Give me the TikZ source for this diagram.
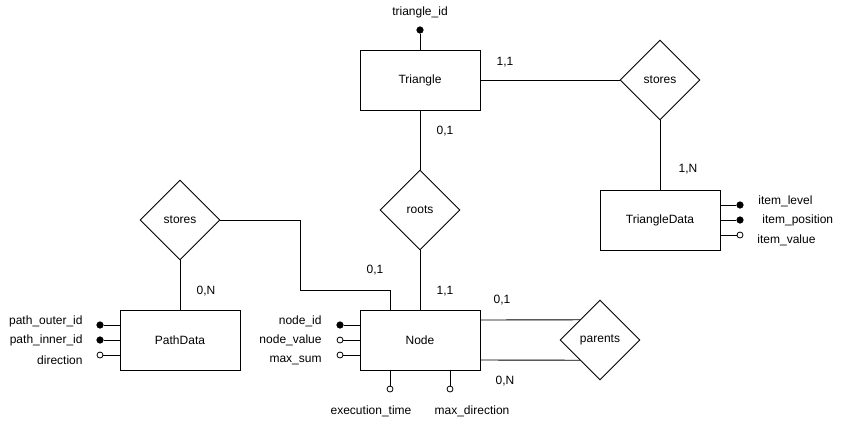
\documentclass[tikz,border=0pt]{standalone}
\usepackage{fontspec}
\setmainfont{Liberation Sans}
\usetikzlibrary{shapes.geometric,calc}
\begin{document}
\begin{tikzpicture}[x=1pt,y=-1pt,line width=0.9pt,
  every node/.style={font=\fontsize{12}{14}\selectfont},
  entity/.style={draw,rectangle,minimum width=120pt,minimum height=60pt,inner sep=0pt},
  rel/.style={draw,diamond,shape aspect=1,minimum width=80pt,minimum height=80pt,inner sep=0pt},
  fdot/.style={circle,fill=black,draw=black,line width=0.6pt,minimum size=6.5pt,inner sep=0pt},
  odot/.style={circle,fill=white,draw=black,line width=0.8pt,minimum size=6pt,inner sep=0pt},
  lbl/.style={inner sep=0pt}]
\useasboundingbox (0,0) rectangle (842,421);
\fill[white] (0,0) rectangle (842,421);
% entities
\node[entity] (tri) at (420,80) {Triangle};
\node[entity] (node) at (420,340) {Node};
\node[entity] (path) at (180,340) {PathData};
\node[entity] (tdata) at (660,220) {TriangleData};
% relationships
\node[rel] (tstores) at (660,80) {stores};
\node[rel] (roots) at (420,210) {roots};
\node[rel] (pstores) at (180,220) {stores};
\node[rel] (parents) at (600,340) {parents};
% connectors
\draw (tri) -- (tstores);
\draw (tstores) -- (tdata);
\draw (tri) -- (roots);
\draw (roots) -- (node);
\draw (pstores) -- (path);
\coordinate (bend) at (300,290);
\draw (pstores.east) -| (bend) -| ([xshift=-30pt]node.north);
\draw ([yshift=20pt]node.east) -- ($(parents.west)!0.5!(parents.north)$);
\draw ([yshift=-20pt]node.east) -- ($(parents.west)!0.5!(parents.south)$);
% cardinalities
\node[lbl] (c1) at (505,62) {1,1};
\node[lbl] (c2) at (445,131) {0,1};
\node[lbl] (c3) at (688,169) {1,N};
\node[lbl] (c4) at (375,270) {0,1};
\node[lbl] (c5) at (445,291) {1,1};
\node[lbl] (c6) at (206,291) {0,N};
\node[lbl] (c7) at (502,300) {0,1};
\node[lbl] (c8) at (505,381) {0,N};
% Triangle attribute
\node[fdot] (tid) at (420,30) {};
\draw (tid) -- (tri);
\node[lbl] (tidl) at (420,12) {triangle\_id};
% TriangleData attributes
\node[fdot] (a1) at (740,205) {};
\node[fdot] (a2) at (740,220) {};
\node[odot] (a3) at (740,235) {};
\draw (a1) -- (a1 -| tdata.east);
\draw (a2) -- (a2 -| tdata.east);
\draw (a3) -- (a3 -| tdata.east);
\node[lbl,anchor=west] (a1l) at (758,201) {item\_level};
\node[lbl,anchor=west] (a2l) at (762,220) {item\_position};
\node[lbl,anchor=west] (a3l) at (757,240) {item\_value};
% PathData attributes
\node[fdot] (p1) at (100,325) {};
\node[fdot] (p2) at (100,340) {};
\node[odot] (p3) at (100,355) {};
\draw (p1) -- (p1 -| path.west);
\draw (p2) -- (p2 -| path.west);
\draw (p3) -- (p3 -| path.west);
\node[lbl,anchor=east] (p1l) at (83,321) {path\_outer\_id};
\node[lbl,anchor=east] (p2l) at (83,340) {path\_inner\_id};
\node[lbl,anchor=east] (p3l) at (83,360) {direction};
% Node attributes
\node[fdot] (n1) at (340,325) {};
\node[odot] (n2) at (340,340) {};
\node[odot] (n3) at (340,355) {};
\draw (n1) -- (n1 -| node.west);
\draw (n2) -- (n2 -| node.west);
\draw (n3) -- (n3 -| node.west);
\node[lbl,anchor=east] (n1l) at (322,321) {node\_id};
\node[lbl,anchor=east] (n2l) at (322,340) {node\_value};
\node[lbl,anchor=east] (n3l) at (322,360) {max\_sum};
\node[odot] (n4) at (390,389) {};
\node[odot] (n5) at (450,389) {};
\draw (n4) -- (n4 |- node.south);
\draw (n5) -- (n5 |- node.south);
\node[lbl] (n4l) at (371,411) {execution\_time};
\node[lbl] (n5l) at (472,411) {max\_direction};
\end{tikzpicture}
\end{document}
